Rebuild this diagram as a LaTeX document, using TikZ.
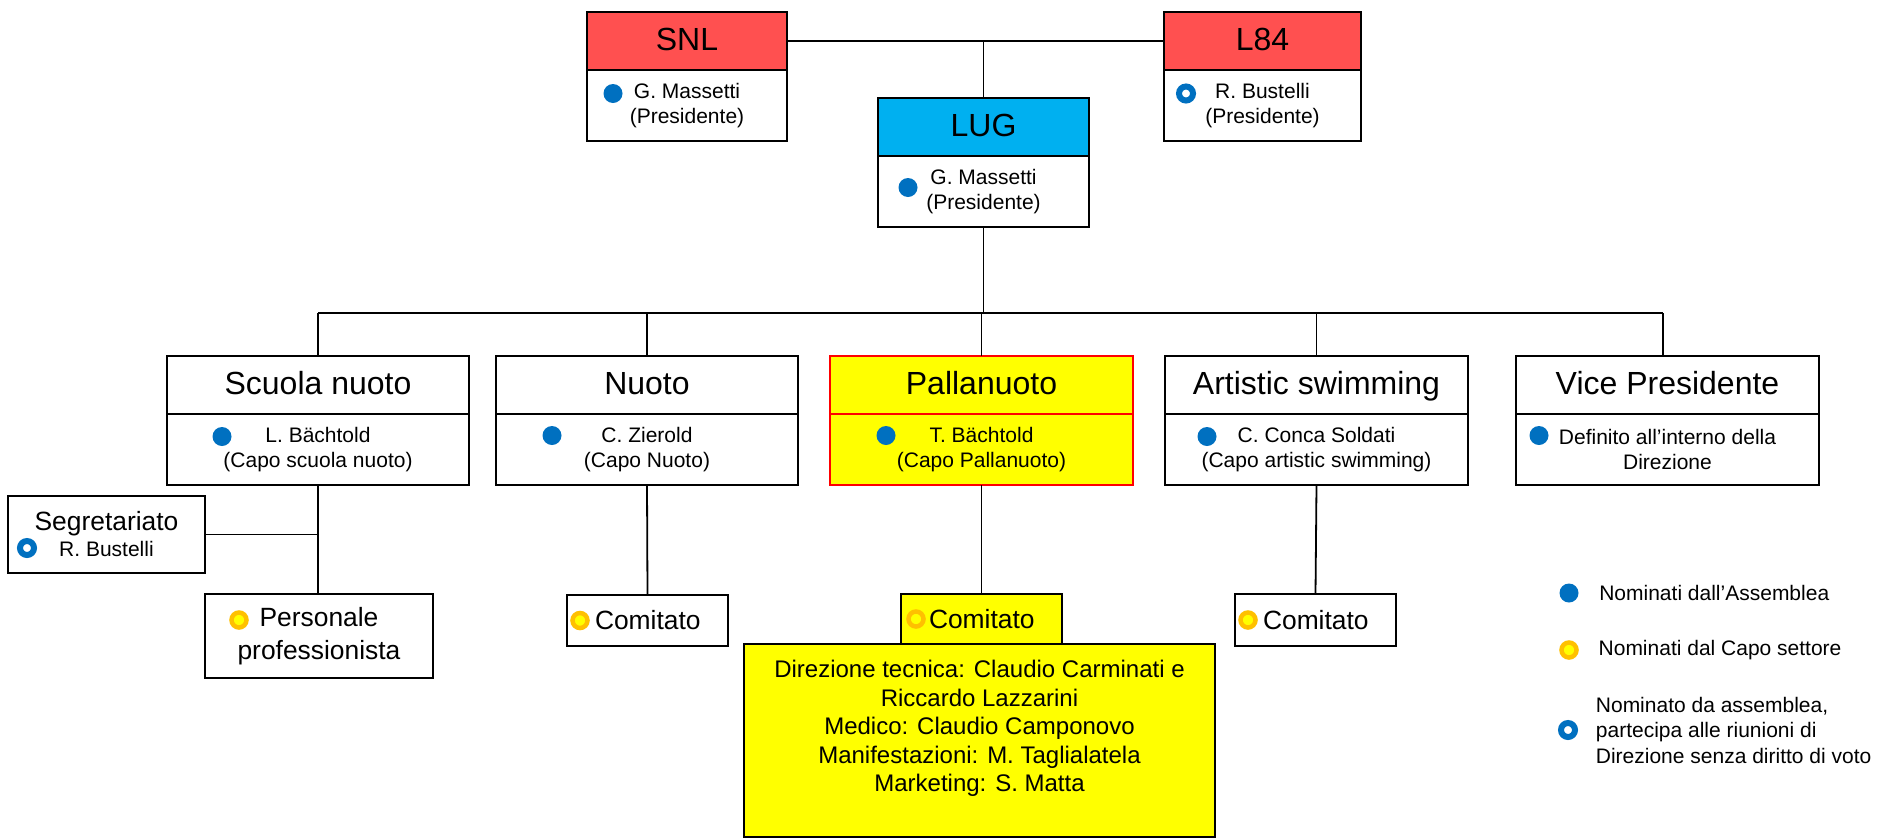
\documentclass[tikz,border=0pt]{standalone}
\usepackage{fontspec}
\setmainfont{Liberation Sans}
\usetikzlibrary{positioning}
\definecolor{redhead}{HTML}{FF5050}
\definecolor{bluehead}{HTML}{00B0F0}
\definecolor{dotblue}{HTML}{0070C0}
\definecolor{dotorange}{HTML}{FFC000}
\definecolor{pallayellow}{HTML}{FFFF00}
\begin{document}
\begin{tikzpicture}[x=1pt,y=-1pt,line width=1.8pt,
    orghead/.style={draw,minimum width=#1,minimum height=58,inner sep=0,outer sep=0,
        text height=23,text depth=5,font=\fontsize{32}{38}\selectfont},
    orgbody/.style={draw,minimum width=#1,minimum height=71,inner sep=0,outer sep=0,
        align=center,font=\fontsize{21}{25}\selectfont},
    pallabox/.style={fill=pallayellow,draw=red},
    combox/.style={draw,minimum width=161,minimum height=#1,inner sep=0,outer sep=0,
        text width=161,align=left,font=\fontsize{26.4}{33}\selectfont},
    legtext/.style={inner sep=0,align=left,font=\fontsize{21}{25.5}\selectfont},
    adot/.style={circle,fill=dotblue,minimum size=19,inner sep=0},
    cdot/.style={circle,fill=pallayellow,draw=dotorange,line width=4.5,minimum size=15,inner sep=0},
    rdot/.style={circle,fill=white,draw=dotblue,line width=6,minimum size=14,inner sep=0}]
    \useasboundingbox (0,0) rectangle (1877,839);

    % Top boxes
    \node[orghead=200,fill=redhead] (snlH) at (687,41) {SNL};
    \node[orgbody=200,below=0pt of snlH] (snlB) {G. Massetti\\(Presidente)};
    \node[orghead=197,fill=redhead] (l84H) at (1262.5,41) {L84};
    \node[orgbody=197,below=0pt of l84H] (l84B) {R. Bustelli\\(Presidente)};
    \node[orghead=211,fill=bluehead] (lugH) at (983.5,127) {LUG};
    \node[orgbody=211,below=0pt of lugH] (lugB) {G. Massetti\\(Presidente)};

    % Sectors
    \node[orghead=302] (scH) at (318,385) {Scuola nuoto};
    \node[orgbody=302,below=0pt of scH] (scB) {L. Bächtold\\(Capo scuola nuoto)};
    \node[orghead=302] (nuH) at (647,385) {Nuoto};
    \node[orgbody=302,below=0pt of nuH] (nuB) {C. Zierold\\(Capo Nuoto)};
    \node[orghead=303,pallabox] (paH) at (981.5,385) {Pallanuoto};
    \node[orgbody=303,pallabox,below=0pt of paH] (paB) {T. Bächtold\\(Capo Pallanuoto)};
    \node[orghead=303] (arH) at (1316.5,385) {Artistic swimming};
    \node[orgbody=303,below=0pt of arH] (arB) {C. Conca Soldati\\(Capo artistic swimming)};
    \node[orghead=303] (viH) at (1667.5,385) {Vice Presidente};
    \node[orgbody=303,below=0pt of viH] (viB) {Definito all’interno della\\Direzione};

    % Lower boxes
    \node[draw,minimum width=197,minimum height=77,inner sep=0,outer sep=0,align=center,
        font=\fontsize{21}{26}\selectfont] (segr) at (106.5,534.5)
        {{\fontsize{26.4}{26}\selectfont Segretariato}\\R. Bustelli};
    \node[draw,minimum width=228,minimum height=84,inner sep=0,outer sep=0,align=center,
        font=\fontsize{26.4}{33}\selectfont] (pers) at (319,636) {Personale\\professionista};
    \node[combox=51] (nuC) at (647.5,620.5) {\hspace*{28pt}Comitato};
    \node[combox=50,fill=pallayellow] (paC) at (981.5,619) {\hspace*{28pt}Comitato};
    \node[combox=52] (arC) at (1315.5,620) {\hspace*{28pt}Comitato};
    \node[draw,fill=pallayellow,minimum width=471,minimum height=193,inner sep=0,outer sep=0,
        align=center,font=\fontsize{24}{28.5}\selectfont] (comm) at (979.5,740.5)
        {Direzione tecnica: Claudio Carminati e\\Riccardo Lazzarini\\Medico: Claudio Camponovo\\
         Manifestazioni: M. Taglialatela\\Marketing: S. Matta\\\mbox{}};

    % Dots
    \node[adot] (snlD) at ([xshift=26pt,yshift=12pt]snlB.west) {};
    \node[rdot] (l84D) at ([xshift=22pt,yshift=12pt]l84B.west) {};
    \node[adot] (lugD) at ([xshift=30pt,yshift=4pt]lugB.west) {};
    \node[adot] (scD) at ([xshift=55pt,yshift=13pt]scB.west) {};
    \node[adot] (nuD) at ([xshift=56pt,yshift=14pt]nuB.west) {};
    \node[adot] (paD) at ([xshift=56pt,yshift=14pt]paB.west) {};
    \node[adot] (arD) at ([xshift=42pt,yshift=13pt]arB.west) {};
    \node[adot] (viD) at ([xshift=23pt,yshift=14pt]viB.west) {};
    \node[rdot] (segrD) at ([xshift=19pt,yshift=-13.5pt]segr.west) {};
    \node[cdot] (persD) at ([xshift=34pt,yshift=16pt]pers.west) {};
    \node[cdot] (nuCD) at ([xshift=13pt]nuC.west) {};
    \node[cdot] (paCD) at ([xshift=15pt]paC.west) {};
    \node[cdot] (arCD) at ([xshift=13pt]arC.west) {};

    % Draw lines
    \coordinate (bar) at (983,313);
    \coordinate (viTop) at (1663,355);
    \draw (snlH.east) -- (snlH.east -| l84H.west);
    \draw (lugH.north) -- (lugH.north |- snlH.east);
    \draw (lugB.south) -- (lugB.south |- bar);
    \draw (scH.north |- bar) -- (viTop |- bar);
    \draw (scH.north) -- (scH.north |- bar);
    \draw (nuH.north) -- (nuH.north |- bar);
    \draw (paH.north) -- (paH.north |- bar);
    \draw (arH.north) -- (arH.north |- bar);
    \draw (viTop) -- (viTop |- bar);
    \draw (scB.south) -- (scB.south |- pers.north);
    \draw (segr.east) -- (segr.east -| scB.south);
    \draw (nuB.south) -- (nuC.north);
    \draw (paB.south) -- (paC.north);
    \draw (arB.south) -- (arC.north);

    % Legend
    \node[adot] (legA) at (1569,593) {};
    \node[legtext,right=19pt of legA] (legAt) {Nominati dall’Assemblea};
    \node[cdot] (legC) at (1569,650) {};
    \node[legtext,right=19pt of legC] (legCt) {Nominati dal Capo settore};
    \node[rdot] (legR) at (1568,730) {};
    \node[legtext,right=17pt of legR] (legRt) {Nominato da assemblea,\\partecipa alle riunioni di\\Direzione senza diritto di voto};
\end{tikzpicture}
\end{document}
